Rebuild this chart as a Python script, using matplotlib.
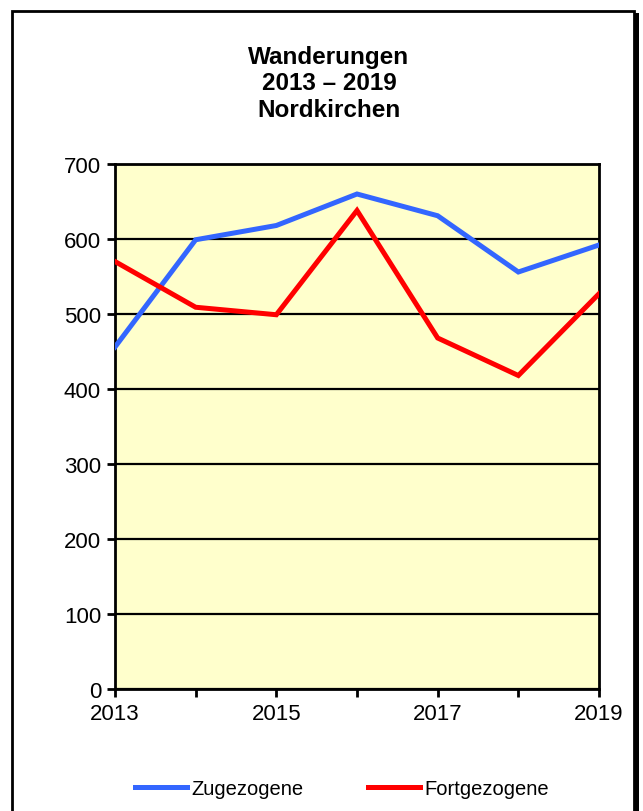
import matplotlib as mpl
mpl.use('Agg')

import matplotlib.pyplot as plt
from matplotlib.patches import Rectangle

plt.rcParams['font.family'] = ['Liberation Sans', 'DejaVu Sans']

years = [2013, 2014, 2015, 2016, 2017, 2018, 2019]
zugezogene = [456, 599, 618, 660, 631, 556, 592]
fortgezogene = [570, 509, 499, 638, 468, 418, 527]
year_labels = ['2013', '', '2015', '', '2017', '', '2019']
title = 'Wanderungen\n2013 \u2013 2019\nNordkirchen'

W, H = 643, 812
fig = plt.figure(figsize=(W / 100, H / 100), dpi=100)

# outer frame with shadow on the right
fig.patches.append(Rectangle((634 / W, -0.05), 5 / W, 1.05 - 14 / H,
                             transform=fig.transFigure, facecolor='black',
                             edgecolor='none', zorder=0))
fig.patches.append(Rectangle((12 / W, -0.05), 622 / W, 1.05 - 12 / H,
                             transform=fig.transFigure, facecolor='white',
                             edgecolor='black', linewidth=2, zorder=1))

ax = fig.add_axes([115 / W, 1 - 690 / H, 484 / W, 525 / H])
ax.set_facecolor('#FFFFCC')
ax.set_zorder(2)

ax.plot(years, zugezogene, color='#3366FF', lw=3.6, label='Zugezogene',
        solid_joinstyle='miter', zorder=3)
ax.plot(years, fortgezogene, color='#FF0000', lw=3.6, label='Fortgezogene',
        solid_joinstyle='miter', zorder=3)

ax.set_xlim(2013, 2019)
ax.set_ylim(0, 700)
ax.set_xticks(years)
ax.set_xticklabels(year_labels)
ax.set_yticks(range(0, 701, 100))
ax.yaxis.grid(True, color='black', lw=1.6)
ax.set_axisbelow(True)
for s in ax.spines.values():
    s.set_linewidth(2)
ax.tick_params(axis='both', labelsize=16, width=2, length=6, direction='out',
               pad=4)

fig.text(329 / W, 1 - 84 / H, title, ha='center', va='center',
         fontsize=17.5, fontweight='bold', linespacing=1.17)

fig.legend(loc='center', bbox_to_anchor=(342 / W, 1 - 790 / H), ncol=2,
           frameon=False, fontsize=14.5, handlelength=2.6, handletextpad=0.2,
           columnspacing=3.2)

plt.savefig('out.png', dpi=100)
